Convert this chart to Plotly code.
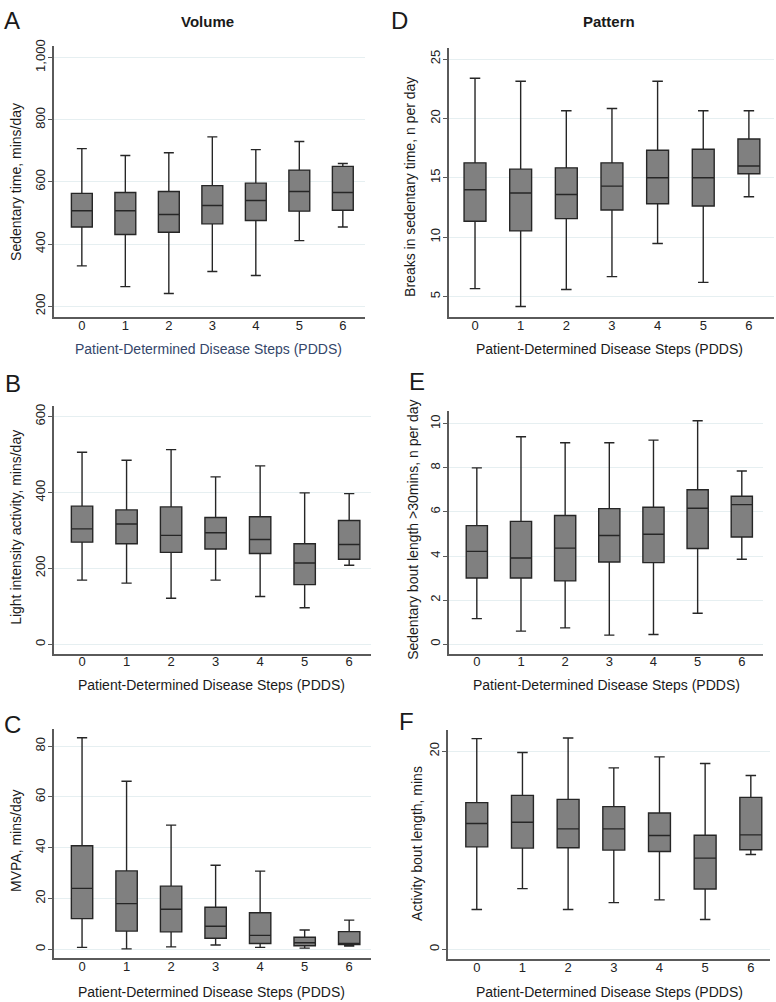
import plotly.graph_objects as go

pdds = [0, 1, 2, 3, 4, 5, 6]

# A: sedentary time, mins/day
sed_lo = [330, 263, 241, 312, 299, 411, 455]
sed_q1 = [455, 431, 438, 465, 476, 506, 509]
sed_med = [507, 507, 495, 524, 540, 569, 566]
sed_q3 = [563, 566, 569, 588, 596, 638, 650]
sed_hi = [707, 685, 694, 745, 704, 730, 659]

# B: light intensity activity, mins/day
lia_lo = [169, 161, 121, 169, 126, 96, 208]
lia_q1 = [269, 265, 242, 251, 239, 157, 224]
lia_med = [304, 317, 287, 294, 276, 214, 263]
lia_q3 = [364, 354, 362, 334, 336, 265, 326]
lia_hi = [506, 485, 513, 441, 470, 399, 397]

# C: MVPA, mins/day
mvpa_lo = [0.8, 0.2, 1.0, 1.7, 0.8, 0.5, 1.3]
mvpa_q1 = [12.1, 7.2, 6.9, 4.4, 2.3, 1.4, 1.9]
mvpa_med = [24.0, 18.0, 15.8, 9.1, 5.5, 2.6, 2.2]
mvpa_q3 = [40.8, 30.9, 24.9, 16.6, 14.4, 4.8, 7.0]
mvpa_hi = [83.3, 66.2, 48.9, 33.1, 30.8, 7.6, 11.5]

# D: breaks in sedentary time, n per day
brk_lo = [5.67, 4.16, 5.59, 6.68, 9.47, 6.2, 13.41]
brk_q1 = [11.34, 10.53, 11.56, 12.29, 12.82, 12.63, 15.34]
brk_med = [14.0, 13.72, 13.6, 14.3, 15.0, 15.0, 16.0]
brk_q3 = [16.26, 15.73, 15.84, 16.26, 17.32, 17.4, 18.27]
brk_hi = [23.38, 23.13, 20.64, 20.84, 23.13, 20.64, 20.64]

# E: sedentary bouts >30 mins, n per day
bout_lo = [1.16, 0.59, 0.74, 0.41, 0.44, 1.40, 3.85]
bout_q1 = [3.0, 3.0, 2.87, 3.73, 3.70, 4.34, 4.86]
bout_med = [4.21, 3.91, 4.36, 4.93, 4.99, 6.17, 6.33]
bout_q3 = [5.38, 5.57, 5.84, 6.15, 6.21, 7.01, 6.71]
bout_hi = [8.0, 9.41, 9.14, 9.14, 9.26, 10.14, 7.86]

# F: activity bout length, mins
abl_lo = [4.02, 6.13, 4.02, 4.72, 4.99, 3.01, 9.58]
abl_q1 = [10.35, 10.22, 10.25, 10.02, 9.88, 6.10, 10.05]
abl_med = [12.70, 12.83, 12.16, 12.16, 11.49, 9.21, 11.56]
abl_q3 = [14.81, 15.54, 15.14, 14.41, 13.77, 11.52, 15.34]
abl_hi = [21.27, 19.87, 21.34, 18.32, 19.43, 18.76, 17.55]

W, H = 776, 1002
FONT = "Liberation Sans, Arial, Helvetica, sans-serif"
xtitle = "Patient-Determined Disease Steps (PDDS)"

def px_x(a, b):
    return [a / W, b / W]

def px_y(top, bot):
    return [1 - bot / H, 1 - top / H]

panels = [
    # name, data, xdom(px), ydom(px), xrange, yrange, dtick, tickformat
    ("A", (sed_lo, sed_q1, sed_med, sed_q3, sed_hi), (54, 365), (40, 313), [-0.64, 6.51], [165, 1038], 200, ",d"),
    ("D", (brk_lo, brk_q1, brk_med, brk_q3, brk_hi), (449, 774), (42, 313), [-0.57, 6.55], [3.27, 25.95], 5, ""),
    ("B", (lia_lo, lia_q1, lia_med, lia_q3, lia_hi), (54, 371), (402, 652), [-0.63, 6.49], [-26, 629], 200, ""),
    ("E", (bout_lo, bout_q1, bout_med, bout_q3, bout_hi), (449, 763), (407, 652), [-0.63, 6.48], [-0.45, 10.6], 2, ""),
    ("C", (mvpa_lo, mvpa_q1, mvpa_med, mvpa_q3, mvpa_hi), (54, 371), (727, 958), [-0.63, 6.49], [-3.5, 86.9], 20, ""),
    ("F", (abl_lo, abl_q1, abl_med, abl_q3, abl_hi), (448, 770), (728, 959), [-0.63, 6.42], [-1.0, 22.18], 20, ""),
]

fig = go.Figure()
layout = {}
for i, (name, d, xd, yd, xr, yr, dt, tf) in enumerate(panels):
    n = "" if i == 0 else str(i + 1)
    lo, q1, med, q3, hi = d
    fig.add_trace(go.Box(
        x=pdds, lowerfence=lo, q1=q1, median=med, q3=q3, upperfence=hi,
        xaxis="x" + n, yaxis="y" + n, width=0.48, whiskerwidth=0.48,
        fillcolor="#808080", line=dict(color="#262626", width=1.4),
        boxpoints=False, hoverinfo="skip", showlegend=False))
    layout["xaxis" + n] = dict(
        domain=px_x(*xd), range=xr, anchor="y" + n, tickvals=pdds,
        showgrid=False, zeroline=False, showline=True, linecolor="#5a5a5a",
        linewidth=1.6, ticks="", ticklabelstandoff=-5,
        tickfont=dict(size=13, color="#222222", family=FONT))
    layout["yaxis" + n] = dict(
        domain=px_y(*yd), range=yr, anchor="x" + n, dtick=dt, tickformat=tf,
        showgrid=True, gridcolor="#e6eff1", gridwidth=1, zeroline=False,
        showline=True, linecolor="#5a5a5a", linewidth=1.6, ticks="outside",
        ticklen=4, tickcolor="#5a5a5a", tickangle=-90, ticklabelstandoff=-2,
        tickfont=dict(size=13, color="#222222", family=FONT))

fig.update_layout(**layout)

ann = []
def text(x, y, s, size=14, color="#1a1a1a", angle=0, bold=False):
    ann.append(dict(x=x / W, y=1 - y / H, xref="paper", yref="paper",
                    text="<b>" + s + "</b>" if bold else s, showarrow=False,
                    textangle=angle, xanchor="center", yanchor="middle",
                    font=dict(size=size, color=color, family=FONT)))

# panel letters and column titles
text(12, 15, "A", 24)
text(400, 15, "D", 24)
text(13, 380, "B", 24)
text(417, 378, "E", 24)
text(12, 723, "C", 24)
text(406, 720, "F", 24)
text(207, 16, "Volume", 15, bold=True)
text(609, 16, "Pattern", 15, bold=True)

# y-axis titles
text(16, 177, "Sedentary time, mins/day", 14, angle=-90)
text(410, 182, "Breaks in sedentary time, n per day", 14, angle=-90)
text(16, 525, "Light intensity activity, mins/day", 14, angle=-90)
text(413, 527, "Sedentary bout length >30mins, n per day", 14, angle=-90)
text(16, 840, "MVPA, mins/day", 14, angle=-90)
text(417, 843, "Activity bout length, mins", 14, angle=-90)

# x-axis titles
text(208, 345, xtitle, 14, color="#34466a")
text(609, 345, xtitle, 14)
text(212, 683, xtitle, 14)
text(606, 683, xtitle, 14)
text(212, 992, xtitle, 14)
text(609, 992, xtitle, 14)

fig.update_layout(
    annotations=ann, width=W, height=H,
    margin=dict(l=0, r=0, t=0, b=0),
    paper_bgcolor="white", plot_bgcolor="white",
    font=dict(family=FONT, size=13),
)

fig.write_html("out.html", config={"displayModeBar": False},
               post_script="document.body.style.margin='0';document.body.style.overflow='hidden';")
